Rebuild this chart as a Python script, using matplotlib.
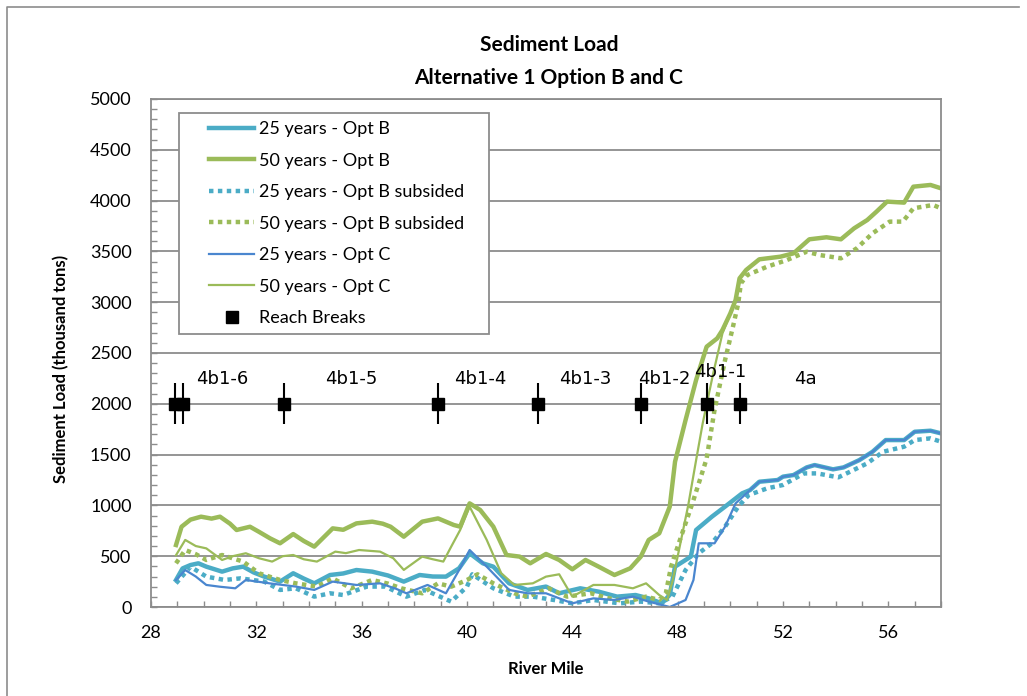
import matplotlib
matplotlib.use("Agg")
import matplotlib.pyplot as plt
from matplotlib.lines import Line2D
from matplotlib.ticker import MultipleLocator
from matplotlib.legend_handler import HandlerLine2D

# 25 years - Opt B
b25_mile = [28.95, 29.2, 29.5, 29.8, 30.1, 30.7, 31.1, 31.5, 31.9, 32.3, 32.9, 33.4, 33.8, 34.2,
            34.8, 35.3, 35.8, 36.4, 37.0, 37.6, 38.2, 38.7, 39.2, 39.7, 40.1, 40.6, 41.0, 41.6,
            42.3, 43.0, 43.5, 44.3, 45.0, 45.7, 46.4, 46.9, 47.4, 47.7, 47.9, 48.5, 48.7, 49.3,
            49.8, 50.45, 50.75, 51.1, 51.8, 52.0, 52.4, 52.9, 53.2, 53.9, 54.3, 54.9, 55.4, 55.9,
            56.6, 57.0, 57.6, 58.0]
b25_load = [266, 380, 413, 430, 397, 348, 380, 397, 340, 299, 250, 332, 280, 233,
            315, 330, 364, 348, 310, 250, 315, 300, 299, 381, 529, 430, 397, 233,
            168, 201, 135, 184, 151, 102, 118, 85, 36, 120, 397, 496, 758, 889,
            988, 1119, 1151, 1233, 1250, 1283, 1299, 1374, 1397, 1355, 1374, 1446, 1528, 1643,
            1643, 1725, 1735, 1709]

# 50 years - Opt B
b50_mile = [28.95, 29.16, 29.5, 29.9, 30.3, 30.62, 31.0, 31.25, 31.76, 32.1, 32.52, 32.9, 33.4,
            33.8, 34.2, 34.9, 35.3, 35.8, 36.4, 36.8, 37.1, 37.6, 38.3, 38.9, 39.5, 39.74, 40.1,
            40.5, 41.0, 41.5, 42.0, 42.4, 43.0, 43.5, 44.0, 44.5, 45.0, 45.6, 46.2, 46.6, 46.9,
            47.3, 47.7, 47.9, 48.3, 48.7, 49.1, 49.5, 49.7, 50.0, 50.2, 50.35, 50.6, 51.1, 51.9,
            52.4, 53.0, 53.65, 54.2, 54.7, 55.2, 55.55, 55.95, 56.6, 56.95, 57.6, 58.0]
b50_load = [610, 790, 860, 889, 870, 889, 820, 758, 790, 740, 676, 627, 718,
            650, 594, 774, 760, 823, 840, 820, 790, 692, 840, 872, 807, 791, 1020,
            955, 791, 512, 496, 430, 522, 463, 371, 463, 397, 315, 381, 496, 660,
            725, 988, 1430, 1840, 2234, 2562, 2644, 2726, 2890, 3022, 3235, 3317, 3422, 3448,
            3481, 3619, 3639, 3619, 3727, 3809, 3891, 3990, 3980, 4137, 4154, 4121]

# 25 years - Opt B subsided
b25s_mile = [28.95, 29.5, 30.1, 30.8, 31.4, 32.3, 32.9, 33.5, 34.2, 34.8, 35.3, 36.2, 36.9, 37.7,
             38.4, 39.4, 40.0, 40.2, 41.0, 41.8, 42.5, 43.3, 44.0, 44.8, 45.8, 46.6, 47.3, 47.8,
             48.3, 48.8, 49.3, 49.8, 50.3, 50.7, 51.4, 52.0, 52.8, 53.3, 54.1, 54.55, 55.2, 55.8,
             56.6, 57.0, 57.6, 58.0]
b25s_load = [233, 397, 299, 266, 282, 250, 168, 184, 102, 135, 118, 201, 201, 102,
             168, 53, 201, 322, 184, 102, 102, 69, 36, 69, 36, 53, 36, 102,
             364, 529, 627, 791, 988, 1102, 1168, 1201, 1315, 1315, 1276, 1332, 1414, 1528,
             1578, 1643, 1660, 1627]

# 50 years - Opt B subsided
b50s_mile = [28.95, 29.3, 29.7, 30.1, 30.7, 31.5, 32.1, 32.9, 33.5, 34.3, 34.9, 35.6, 36.4, 37.0,
             37.5, 38.3, 38.9, 39.4, 40.0, 40.4, 41.0, 41.8, 42.3, 43.1, 43.8, 44.7, 45.4, 46.1,
             46.8, 47.3, 47.55, 47.75, 48.0, 48.6, 49.1, 49.4, 49.8, 50.1, 50.3, 50.4, 50.65, 51.4,
             52.15, 52.9, 53.4, 54.2, 54.8, 55.4, 56.05, 56.55, 56.95, 57.7, 58.0]
b50s_load = [430, 561, 520, 463, 512, 447, 332, 266, 233, 201, 282, 184, 266, 230,
             184, 135, 233, 200, 266, 322, 233, 135, 102, 184, 102, 135, 85, 53,
             102, 69, 135, 400, 594, 1053, 1460, 1939, 2431, 2759, 2988, 3185, 3268, 3350,
             3415, 3497, 3464, 3432, 3530, 3678, 3793, 3793, 3924, 3957, 3924]

# 25 years - Opt C
c25_mile = [28.95, 29.3, 29.7, 30.1, 30.6, 31.2, 31.6, 32.5, 33.5, 34.2, 34.9, 35.8, 36.7, 37.3,
            37.7, 38.5, 39.2, 39.7, 40.1, 40.75, 41.6, 42.3, 43.0, 44.0, 44.8, 45.6, 46.3, 46.9,
            47.7, 48.3, 48.6, 48.8, 49.4, 49.8, 50.2, 50.75, 51.1, 51.8, 52.0, 52.4, 52.9, 53.2,
            53.9, 54.3, 54.9, 55.4, 55.9, 56.6, 57.0, 57.6, 58.0]
c25_load = [266, 364, 300, 217, 200, 184, 266, 233, 201, 168, 250, 217, 233, 180,
            135, 217, 135, 364, 561, 397, 168, 135, 135, 36, 85, 69, 102, 53,
            0, 69, 266, 627, 627, 791, 1020, 1151, 1233, 1250, 1283, 1299, 1374, 1397,
            1355, 1374, 1446, 1528, 1643, 1643, 1725, 1735, 1709]

# 50 years - Opt C
c50_mile = [28.95, 29.3, 29.7, 30.1, 30.7, 31.1, 31.6, 32.1, 32.6, 33.0, 33.4, 33.8, 34.3, 35.0,
            35.4, 35.9, 36.7, 37.2, 37.6, 38.3, 38.7, 39.1, 39.4, 39.74, 40.1, 40.75, 41.3, 41.8,
            42.5, 43.0, 43.5, 44.0, 44.8, 45.6, 46.3, 46.8, 47.3, 47.6, 47.8, 48.05, 48.4, 48.7,
            48.95, 49.35, 49.7, 50.0, 50.2, 50.35, 50.6, 51.1, 51.9, 52.4, 53.0, 53.65, 54.2,
            54.7, 55.2, 55.55, 55.95, 56.6, 56.95, 57.6, 58.0]
c50_load = [510, 660, 600, 577, 463, 500, 529, 480, 447, 500, 512, 470, 447, 545,
            530, 561, 545, 480, 365, 496, 470, 447, 594, 758, 988, 660, 332, 217,
            233, 299, 322, 102, 217, 217, 184, 233, 118, 69, 250, 560, 1000, 1445,
            1807, 2300, 2693, 2890, 3005, 3235, 3317, 3422, 3448, 3481, 3619, 3639, 3619,
            3727, 3809, 3891, 3990, 3980, 4137, 4154, 4121]

# reach breaks and reach names
break_mile = [28.9, 29.2, 33.05, 38.9, 42.7, 46.6, 49.1, 50.35]
break_load = [2000] * len(break_mile)
reach_names = ["4b1-6", "4b1-5", "4b1-4", "4b1-3", "4b1-2", "4b1-1", "4a"]
reach_mile = [30.7, 35.6, 40.5, 44.5, 47.5, 49.6, 52.85]
reach_load = [2240, 2240, 2240, 2240, 2240, 2310, 2240]

teal = "#4bacc6"
green = "#9bbb59"
blue = "#4a86cf"
grid_gray = "#8c8c8c"


# legend handle with some blank space on its left, like Excel does
class PaddedLine(HandlerLine2D):
    def create_artists(self, legend, orig_handle, xdescent, ydescent, width, height, fontsize, trans):
        shift = 16
        return super().create_artists(legend, orig_handle, xdescent - shift, ydescent,
                                      width - shift, height, fontsize, trans)


plt.rcParams["font.family"] = ["Lato", "DejaVu Sans"]

fig = plt.figure(figsize=(10.27, 6.96), dpi=100)
ax = fig.add_axes([151 / 1027, 1 - 607 / 696, (941 - 151) / 1027, (607 - 99) / 696])

ax.plot(b25_mile, b25_load, color=teal, lw=3.2, label="25 years - Opt B")
ax.plot(b50_mile, b50_load, color=green, lw=3.2, label="50 years - Opt B")
ax.plot(b25s_mile, b25s_load, color=teal, lw=3.2, ls=(0, (1, 1)), label="25 years - Opt B subsided")
ax.plot(b50s_mile, b50s_load, color=green, lw=3.2, ls=(0, (1, 1)), label="50 years - Opt B subsided")
ax.plot(c25_mile, c25_load, color=blue, lw=1.6, label="25 years - Opt C")
ax.plot(c50_mile, c50_load, color=green, lw=1.6, label="50 years - Opt C")

ax.errorbar(break_mile, break_load, yerr=200, fmt="none", ecolor="black", elinewidth=1.5, capsize=0)
ax.plot(break_mile, break_load, ls="none", marker="s", ms=8, color="black", label="Reach Breaks")

for name, xm, ym in zip(reach_names, reach_mile, reach_load):
    ax.text(xm, ym, name, ha="center", va="center", fontsize=13, family=["DejaVu Sans"])

ax.set_xlim(28, 58)
ax.set_ylim(0, 5000)
ax.xaxis.set_major_locator(MultipleLocator(4))
ax.xaxis.set_minor_locator(MultipleLocator(1))
ax.yaxis.set_major_locator(MultipleLocator(500))
ax.yaxis.set_minor_locator(MultipleLocator(100))
ax.tick_params(which="both", direction="in", length=4, width=1, color=grid_gray, labelsize=13)
ax.tick_params(axis="x", pad=13)
ax.tick_params(axis="y", pad=14)
ax.grid(axis="y", which="major", color=grid_gray, lw=1.3)
ax.set_axisbelow(True)
for sp in ax.spines.values():
    sp.set_color(grid_gray)
    sp.set_linewidth(1.3)

ax.set_xlabel("River Mile", fontsize=12, fontweight="bold")
ax.xaxis.set_label_coords(0.5, -0.106)
ax.set_ylabel("Sediment Load (thousand tons)", fontsize=12, fontweight="bold")
ax.yaxis.set_label_coords(-0.103, 0.468)

fig.text(549 / 1027, 1 - 45 / 696, "Sediment Load", ha="center", va="center",
         fontsize=15, fontweight="bold")
fig.text(549 / 1027, 1 - 78 / 696, "Alternative 1 Option B and C", ha="center", va="center",
         fontsize=15, fontweight="bold")

leg = ax.legend(loc="upper left",
                bbox_to_anchor=(179 / 1027, 1 - 333 / 696, 310 / 1027, 220 / 696),
                bbox_transform=fig.transFigure, mode="expand", borderaxespad=0, fontsize=13,
                handlelength=3.7, handletextpad=0.3, labelspacing=0.86, borderpad=0.45,
                fancybox=False, framealpha=1,
                handler_map={Line2D: PaddedLine()})
leg.get_frame().set_edgecolor(grid_gray)
leg.get_frame().set_linewidth(1.3)

# chart area border (top and left edges show in the picture)
fig.add_artist(Line2D([7 / 1027, 7 / 1027, 1019 / 1027], [0, 1 - 7 / 696, 1 - 7 / 696],
                      transform=fig.transFigure, color=grid_gray, lw=1.2))

fig.savefig("out.png", dpi=100)
